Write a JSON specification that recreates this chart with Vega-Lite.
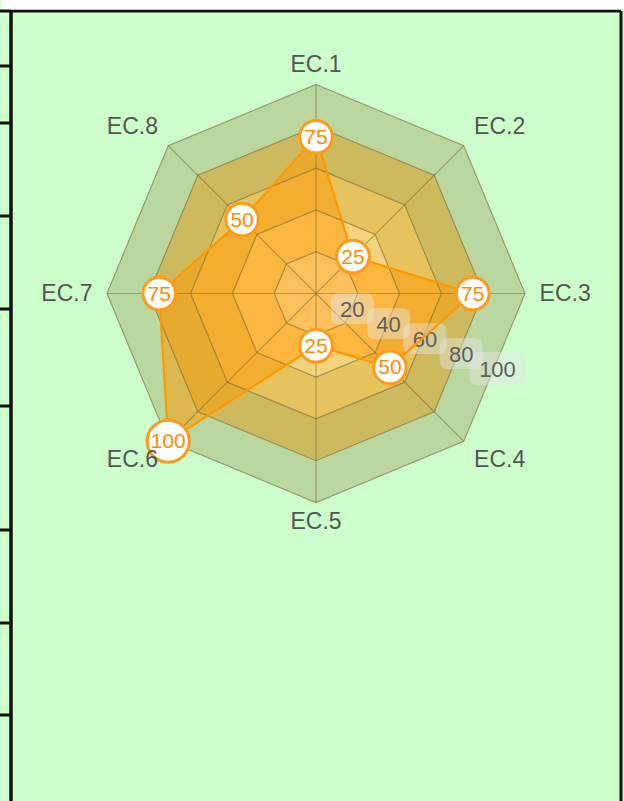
{
  "$schema": "https://vega.github.io/schema/vega-lite/v6.json",
  "width": 610,
  "height": 790.5,
  "autosize": {"type": "none"},
  "padding": {"left": 10.5, "top": 10.5, "right": 3.5, "bottom": 0},
  "background": "#CCFFCC",
  "config": {"view": {"stroke": null, "fill": "#CCFFCC"}, "font": "Liberation Sans"},
  "datasets": {
    "radar": [
      {"axis": "EC.1", "value": 75},
      {"axis": "EC.2", "value": 25},
      {"axis": "EC.3", "value": 75},
      {"axis": "EC.4", "value": 50},
      {"axis": "EC.5", "value": 25},
      {"axis": "EC.6", "value": 100},
      {"axis": "EC.7", "value": 75},
      {"axis": "EC.8", "value": 50}
    ],
    "grid": [
      {"level": 100, "axis": "EC.1"}, {"level": 100, "axis": "EC.2"}, {"level": 100, "axis": "EC.3"}, {"level": 100, "axis": "EC.4"},
      {"level": 100, "axis": "EC.5"}, {"level": 100, "axis": "EC.6"}, {"level": 100, "axis": "EC.7"}, {"level": 100, "axis": "EC.8"},
      {"level": 80, "axis": "EC.1"}, {"level": 80, "axis": "EC.2"}, {"level": 80, "axis": "EC.3"}, {"level": 80, "axis": "EC.4"},
      {"level": 80, "axis": "EC.5"}, {"level": 80, "axis": "EC.6"}, {"level": 80, "axis": "EC.7"}, {"level": 80, "axis": "EC.8"},
      {"level": 60, "axis": "EC.1"}, {"level": 60, "axis": "EC.2"}, {"level": 60, "axis": "EC.3"}, {"level": 60, "axis": "EC.4"},
      {"level": 60, "axis": "EC.5"}, {"level": 60, "axis": "EC.6"}, {"level": 60, "axis": "EC.7"}, {"level": 60, "axis": "EC.8"},
      {"level": 40, "axis": "EC.1"}, {"level": 40, "axis": "EC.2"}, {"level": 40, "axis": "EC.3"}, {"level": 40, "axis": "EC.4"},
      {"level": 40, "axis": "EC.5"}, {"level": 40, "axis": "EC.6"}, {"level": 40, "axis": "EC.7"}, {"level": 40, "axis": "EC.8"},
      {"level": 20, "axis": "EC.1"}, {"level": 20, "axis": "EC.2"}, {"level": 20, "axis": "EC.3"}, {"level": 20, "axis": "EC.4"},
      {"level": 20, "axis": "EC.5"}, {"level": 20, "axis": "EC.6"}, {"level": 20, "axis": "EC.7"}, {"level": 20, "axis": "EC.8"}
    ],
    "scalelabels": [{"level": 20}, {"level": 40}, {"level": 60}, {"level": 80}, {"level": 100}]
  },
  "encoding": {
    "x": {
      "field": "x", "type": "quantitative",
      "scale": {"domain": [-146.17, 145.7], "nice": false, "zero": false},
      "axis": {
        "orient": "top", "values": [145.7], "title": null, "labels": false, "ticks": false,
        "grid": true, "gridColor": "#111111", "gridWidth": 3, "gridOpacity": 1,
        "domain": true, "domainColor": "#FFFFFF", "domainWidth": 20, "domainCap": "square", "offset": 11.5
      }
    },
    "y": {
      "field": "y", "type": "quantitative",
      "scale": {"domain": [-242.82, 135.41], "nice": false, "zero": false},
      "axis": {
        "orient": "left",
        "values": [135.41, 109.33, 82.06, 37.56, -6.94, -53.35, -112.68, -157.18, -201.2],
        "title": null, "labels": false,
        "ticks": true, "tickColor": "#111111", "tickWidth": 3, "tickSize": 11,
        "domain": true, "domainColor": "#111111", "domainWidth": 3.5,
        "grid": true, "gridColor": "#111111", "gridWidth": 3,
        "gridOpacity": {"condition": {"test": "datum.value > 130", "value": 1}, "value": 0}
      }
    }
  },
  "layer": [
    {
      "data": {"name": "grid"},
      "transform": [
        {"calculate": "toNumber(slice(datum.axis, 3)) - 1", "as": "i"},
        {"calculate": "PI/2 - datum.i*PI/4", "as": "a"},
        {"calculate": "datum.level*cos(datum.a)", "as": "x"},
        {"calculate": "datum.level*sin(datum.a)", "as": "y"}
      ],
      "mark": {"type": "line", "interpolate": "linear-closed", "strokeWidth": 0, "strokeOpacity": 0},
      "encoding": {
        "fill": {"field": "level", "type": "ordinal", "scale": {"domain": [20, 40, 60, 80, 100], "range": ["#FDE6B8", "#F6D47E", "#E7C35E", "#CDBA5E", "#B9D79F"]}, "legend": null},
        "detail": {"field": "level", "type": "ordinal"},
        "order": {"field": "i", "type": "quantitative"}
      }
    },
    {
      "data": {"name": "radar"},
      "transform": [
        {"calculate": "toNumber(slice(datum.axis, 3)) - 1", "as": "i"},
        {"calculate": "PI/2 - datum.i*PI/4", "as": "a"},
        {"calculate": "datum.value*cos(datum.a)", "as": "x"},
        {"calculate": "datum.value*sin(datum.a)", "as": "y"}
      ],
      "mark": {"type": "line", "interpolate": "linear-closed", "fill": "#FF9A00", "fillOpacity": 0.5, "strokeWidth": 0, "strokeOpacity": 0},
      "encoding": {"order": {"field": "i", "type": "quantitative"}}
    },
    {
      "data": {"name": "grid"},
      "transform": [
        {"calculate": "toNumber(slice(datum.axis, 3)) - 1", "as": "i"},
        {"calculate": "PI/2 - datum.i*PI/4", "as": "a"},
        {"calculate": "datum.level*cos(datum.a)", "as": "x"},
        {"calculate": "datum.level*sin(datum.a)", "as": "y"}
      ],
      "mark": {"type": "line", "interpolate": "linear-closed", "stroke": "#7A6A38", "strokeWidth": 1.2, "strokeOpacity": 0.6},
      "encoding": {
        "detail": {"field": "level", "type": "ordinal"},
        "order": {"field": "i", "type": "quantitative"}
      }
    },
    {
      "data": {"name": "grid"},
      "transform": [
        {"filter": "datum.level == 100"},
        {"calculate": "toNumber(slice(datum.axis, 3)) - 1", "as": "i"},
        {"calculate": "PI/2 - datum.i*PI/4", "as": "a"},
        {"calculate": "datum.level*cos(datum.a)", "as": "x"},
        {"calculate": "datum.level*sin(datum.a)", "as": "y"}
      ],
      "mark": {"type": "rule", "stroke": "#7A6A38", "strokeWidth": 1.2, "strokeOpacity": 0.5},
      "encoding": {"x2": {"datum": 0}, "y2": {"datum": 0}}
    },
    {
      "data": {"name": "scalelabels"},
      "transform": [
        {"calculate": "0.94*datum.level*cos(-PI/8)", "as": "x"},
        {"calculate": "0.94*datum.level*sin(-PI/8)", "as": "y"}
      ],
      "mark": {"type": "point", "filled": true, "fill": "#E6E6E6", "opacity": 1, "fillOpacity": 0.45, "strokeWidth": 0},
      "encoding": {
        "shape": {
          "condition": {"test": "datum.level >= 100", "value": "M-0.7,-0.593 L0.7,-0.593 Q1,-0.593 1,-0.293 L1,0.293 Q1,0.593 0.7,0.593 L-0.7,0.593 Q-1,0.593 -1,0.293 L-1,-0.293 Q-1,-0.593 -0.7,-0.593 Z"},
          "value": "M-0.62,-0.714 L0.62,-0.714 Q1,-0.714 1,-0.333 L1,0.333 Q1,0.714 0.62,0.714 L-0.62,0.714 Q-1,0.714 -1,0.333 L-1,-0.333 Q-1,-0.714 -0.62,-0.714 Z"
        },
        "size": {"condition": {"test": "datum.level >= 100", "value": 3136}, "value": 1849}
      }
    },
    {
      "data": {"name": "scalelabels"},
      "transform": [
        {"calculate": "0.94*datum.level*cos(-PI/8)", "as": "x"},
        {"calculate": "0.94*datum.level*sin(-PI/8)", "as": "y"}
      ],
      "mark": {"type": "text", "fontSize": 22, "fill": "#606060", "align": "center", "baseline": "middle", "dy": 1},
      "encoding": {"text": {"field": "level", "type": "quantitative"}}
    },
    {
      "data": {"name": "radar"},
      "transform": [
        {"calculate": "toNumber(slice(datum.axis, 3)) - 1", "as": "i"},
        {"calculate": "PI/2 - datum.i*PI/4", "as": "a"},
        {"calculate": "datum.value*cos(datum.a)", "as": "x"},
        {"calculate": "datum.value*sin(datum.a)", "as": "y"}
      ],
      "mark": {"type": "line", "interpolate": "linear-closed", "stroke": "#FF9900", "strokeWidth": 2.2},
      "encoding": {"order": {"field": "i", "type": "quantitative"}}
    },
    {
      "data": {"name": "radar"},
      "transform": [
        {"calculate": "toNumber(slice(datum.axis, 3)) - 1", "as": "i"},
        {"calculate": "PI/2 - datum.i*PI/4", "as": "a"},
        {"calculate": "datum.value*cos(datum.a)", "as": "x"},
        {"calculate": "datum.value*sin(datum.a)", "as": "y"}
      ],
      "mark": {"type": "circle", "fill": "#FFFFFF", "stroke": "#FF9B1A", "strokeWidth": 3, "opacity": 1},
      "encoding": {"size": {"condition": {"test": "datum.value >= 100", "value": 1770}, "value": 1070}}
    },
    {
      "data": {"name": "radar"},
      "transform": [
        {"calculate": "toNumber(slice(datum.axis, 3)) - 1", "as": "i"},
        {"calculate": "PI/2 - datum.i*PI/4", "as": "a"},
        {"calculate": "datum.value*cos(datum.a)", "as": "x"},
        {"calculate": "datum.value*sin(datum.a)", "as": "y"}
      ],
      "mark": {"type": "text", "fontSize": 21, "fill": "#FF8C00", "align": "center", "baseline": "middle", "dy": 1},
      "encoding": {"text": {"field": "value", "type": "quantitative"}}
    },
    {
      "data": {"name": "radar"},
      "transform": [
        {"calculate": "toNumber(slice(datum.axis, 3)) - 1", "as": "i"},
        {"calculate": "PI/2 - datum.i*PI/4", "as": "a"},
        {"calculate": "cos(datum.a)", "as": "cs"},
        {"calculate": "sin(datum.a)", "as": "sn"},
        {"calculate": "datum.cs*107 + (datum.cs > 0.01 ? 12.2 : (datum.cs < -0.01 ? -12.2 : 0))", "as": "x"},
        {"calculate": "datum.sn*(abs(datum.cs) > 0.1 ? 112.5 : 109.3)", "as": "y"}
      ],
      "mark": {"type": "text", "fontSize": 23, "fill": "#555555", "align": "center", "baseline": "middle"},
      "encoding": {"text": {"field": "axis", "type": "nominal"}}
    }
  ]
}
